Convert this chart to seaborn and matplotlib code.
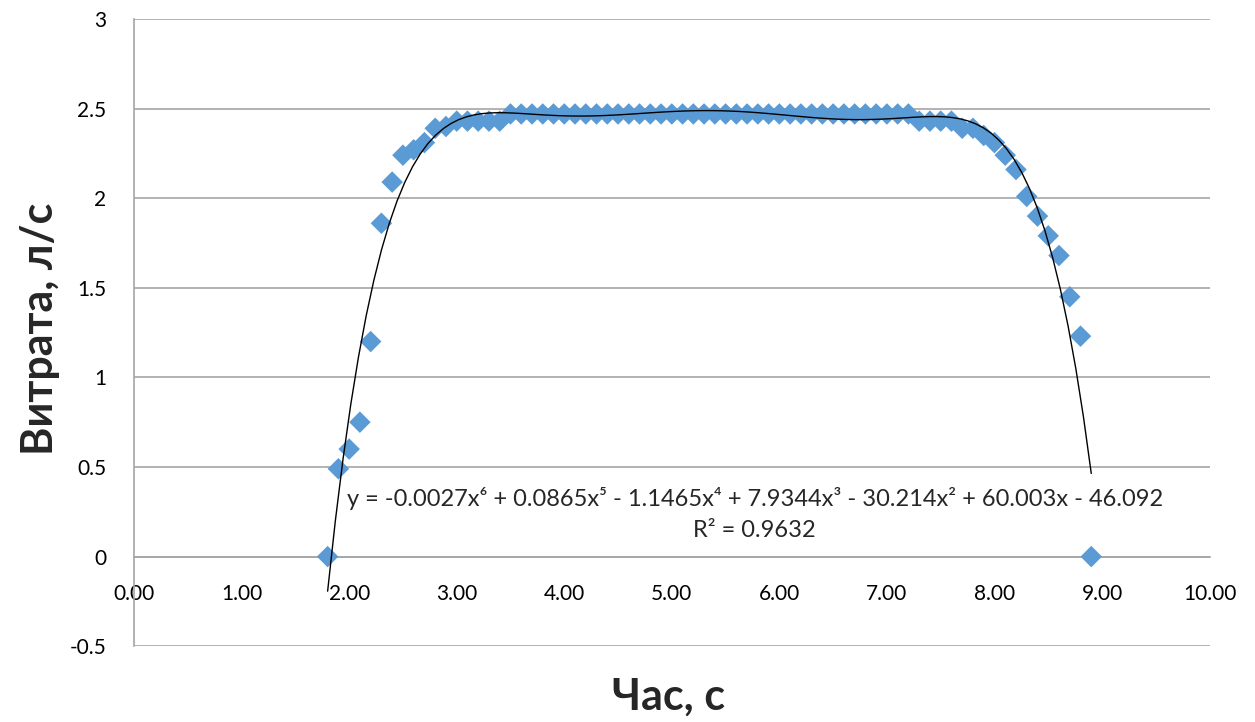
import numpy as np
import pandas as pd
import matplotlib
matplotlib.use("Agg")
import matplotlib.pyplot as plt
import seaborn as sns

# time, s  (one point every 0.1 s from 1.8 to 8.9)
time_s = [1.8, 1.9, 2.0, 2.1, 2.2, 2.3, 2.4, 2.5, 2.6, 2.7,
          2.8, 2.9, 3.0, 3.1, 3.2, 3.3, 3.4, 3.5, 3.6, 3.7,
          3.8, 3.9, 4.0, 4.1, 4.2, 4.3, 4.4, 4.5, 4.6, 4.7,
          4.8, 4.9, 5.0, 5.1, 5.2, 5.3, 5.4, 5.5, 5.6, 5.7,
          5.8, 5.9, 6.0, 6.1, 6.2, 6.3, 6.4, 6.5, 6.6, 6.7,
          6.8, 6.9, 7.0, 7.1, 7.2, 7.3, 7.4, 7.5, 7.6, 7.7,
          7.8, 7.9, 8.0, 8.1, 8.2, 8.3, 8.4, 8.5, 8.6, 8.7,
          8.8, 8.9]

# flow rate, l/s
flow = [0.00, 0.49, 0.60, 0.75, 1.20, 1.86, 2.09, 2.24, 2.27, 2.31,
        2.39, 2.40, 2.43, 2.43, 2.43, 2.43, 2.43, 2.47, 2.47, 2.47,
        2.47, 2.47, 2.47, 2.47, 2.47, 2.47, 2.47, 2.47, 2.47, 2.47,
        2.47, 2.47, 2.47, 2.47, 2.47, 2.47, 2.47, 2.47, 2.47, 2.47,
        2.47, 2.47, 2.47, 2.47, 2.47, 2.47, 2.47, 2.47, 2.47, 2.47,
        2.47, 2.47, 2.47, 2.47, 2.47, 2.43, 2.43, 2.43, 2.43, 2.39,
        2.39, 2.35, 2.31, 2.24, 2.16, 2.01, 1.90, 1.79, 1.68, 1.45,
        1.23, 0.00]

eq_line = "y = -0.0027x⁶ + 0.0865x⁵ - 1.1465x⁴ + 7.9344x³ - 30.214x² + 60.003x - 46.092"
r2_line = "R² = 0.9632"

df = pd.DataFrame({"t": time_s, "q": flow})

sns.set_style("white")
plt.rcParams["font.family"] = ["Lato", "DejaVu Sans"]

fig = plt.figure(figsize=(12.55, 7.22), dpi=100)
ax = fig.add_axes([0.1068, 0.105, 0.857, 0.8687])

ax.set_xlim(0, 10)
ax.set_ylim(-0.5, 3)
ax.set_yticks(np.arange(-0.5, 3.01, 0.5))
ax.set_xticks(np.arange(0, 10.01, 1))
ax.yaxis.set_major_formatter(matplotlib.ticker.FuncFormatter(lambda v, p: f"{v:g}"))
ax.xaxis.set_major_formatter(matplotlib.ticker.FormatStrFormatter("%.2f"))
ax.grid(axis="y", color="#a6a6a6", lw=1.2)
ax.set_axisbelow(True)

for s in ["top", "right"]:
    ax.spines[s].set_visible(False)
ax.spines["left"].set_color("#a6a6a6")
ax.spines["left"].set_linewidth(1.2)
ax.spines["bottom"].set_position(("data", 0))
ax.spines["bottom"].set_color("#a6a6a6")
ax.spines["bottom"].set_linewidth(1.2)
ax.tick_params(axis="both", length=0, labelsize=15, colors="black")
ax.tick_params(axis="y", pad=20)
ax.tick_params(axis="x", pad=20)

sns.scatterplot(data=df, x="t", y="q", marker="D", s=120, color="#5b9bd5",
                edgecolor="none", ax=ax, zorder=3)
sns.regplot(data=df, x="t", y="q", order=6, ci=None, scatter=False, ax=ax,
            line_kws={"color": "black", "lw": 1.0, "zorder": 4})

ax.set_xlim(0, 10)
ax.set_ylim(-0.5, 3)

ax.text(5.77, 0.324, eq_line, ha="center", va="center", fontsize=17)
ax.text(5.77, 0.145, r2_line, ha="center", va="center", fontsize=17)

ax.set_xlabel("")
ax.set_ylabel("")
fig.text(0.533, 0.035, "Час, с", ha="center", va="center", fontsize=31, fontweight="bold")
fig.text(0.032, 0.545, "Витрата, л/с", ha="center", va="center", rotation=90,
         fontsize=31, fontweight="bold")

fig.savefig("out.png", dpi=100)
